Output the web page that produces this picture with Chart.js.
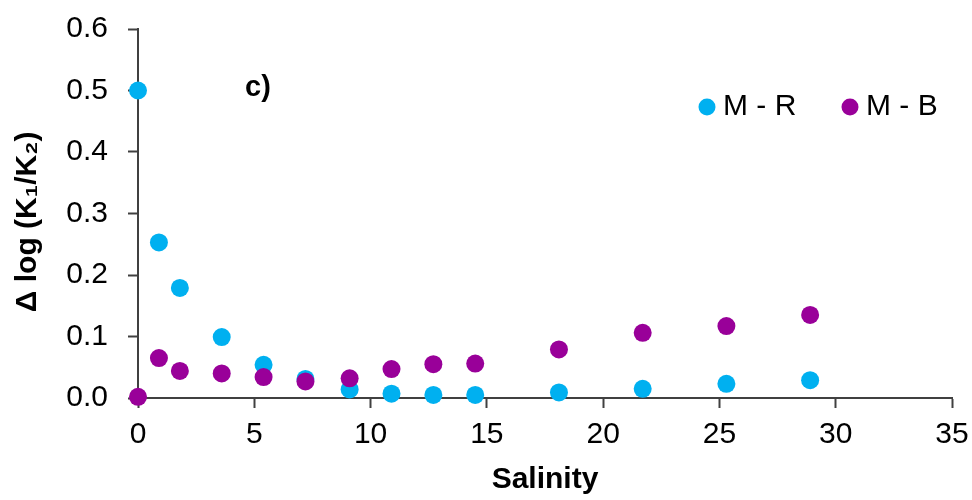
<!DOCTYPE html>
<html>
<head>
<meta charset="utf-8">
<script src="https://cdn.jsdelivr.net/npm/chart.js@4/dist/chart.umd.min.js"></script>
<style>
    html, body { margin: 0; padding: 0; background: #fff; }
    #wrap { width: 972px; height: 500px; }
</style>
</head>
<body>
<div id="wrap"><canvas id="myChart"></canvas></div>
<script>
// Dados
const salinity = [0, 0.9, 1.8, 3.6, 5.4, 7.2, 9.1, 10.9, 12.7, 14.5, 18.1, 21.7, 25.3, 28.9]
const mrValues = [0.500, 0.253, 0.179, 0.099, 0.054, 0.031, 0.014, 0.007, 0.005, 0.005, 0.009, 0.015, 0.023, 0.029]
const mbValues = [0.002, 0.065, 0.044, 0.040, 0.034, 0.027, 0.032, 0.047, 0.055, 0.056, 0.079, 0.106, 0.117, 0.135]
const seriesLabels = ['M - R', 'M - B']
const seriesColors = ['#00B0F0', '#990099']
const xTicks = [0, 5, 10, 15, 20, 25, 30, 35]
const yTicks = [0, 0.1, 0.2, 0.3, 0.4, 0.5, 0.6]

const fontName = '"Liberation Sans", Arial, sans-serif'
const axisColor = '#404040'

function toPoints(values) {
    return values.map((v, i) => ({ x: salinity[i], y: v }))
}

// Legenda e rótulo "c)" desenhados dentro da área do gráfico
const extraText = {
    id: 'extraText',
    afterDatasetsDraw(chart) {
        const ctx = chart.ctx
        const area = chart.chartArea
        ctx.save()

        ctx.font = 'bold 29px ' + fontName
        ctx.fillStyle = '#000'
        ctx.textBaseline = 'middle'
        ctx.textAlign = 'left'
        ctx.fillText('c)', area.left + 107, area.top + 59)

        const centers = [area.right - 245, area.right - 102]
        ctx.font = '30px ' + fontName
        chart.data.datasets.forEach((ds, i) => {
            const cx = centers[i]
            const cy = area.top + 78
            ctx.beginPath()
            ctx.arc(cx, cy, 8.5, 0, Math.PI * 2)
            ctx.fillStyle = ds.backgroundColor
            ctx.fill()
            ctx.fillStyle = '#000'
            ctx.fillText(ds.label, cx + 16, cy)
        })
        ctx.restore()
    }
}

const chart = new Chart(document.getElementById('myChart').getContext('2d'), {
    type: 'scatter',
    data: {
        datasets: [
            {
                label: seriesLabels[0],
                data: toPoints(mrValues),
                backgroundColor: seriesColors[0],
                borderColor: seriesColors[0],
                pointRadius: 9,
                borderWidth: 0,
                clip: false,
                order: 2
            },
            {
                label: seriesLabels[1],
                data: toPoints(mbValues),
                backgroundColor: seriesColors[1],
                borderColor: seriesColors[1],
                pointRadius: 9,
                borderWidth: 0,
                clip: false,
                order: 1
            }
        ]
    },
    options: {
        responsive: true,
        maintainAspectRatio: false,
        animation: false,
        layout: { padding: { left: 0, top: 29, right: 20, bottom: 0 } },
        plugins: {
            legend: { display: false },
            tooltip: { enabled: false }
        },
        scales: {
            x: {
                type: 'linear',
                min: 0,
                max: 35,
                afterFit(scale) {
                    scale.height = 102
                    scale.paddingLeft = 0
                    scale.paddingRight = 0
                },
                afterBuildTicks(scale) { scale.ticks = xTicks.map(v => ({ value: v })) },
                grid: { drawOnChartArea: false, drawTicks: true, tickLength: 10, color: axisColor, tickWidth: 2 },
                border: { display: true, color: axisColor, width: 2 },
                ticks: {
                    padding: 9,
                    color: '#000',
                    font: { family: fontName, size: 30 },
                    maxRotation: 0
                },
                title: {
                    display: true,
                    text: 'Salinity',
                    color: '#000',
                    font: { family: fontName, size: 30, weight: 'bold' },
                    padding: { top: 0, bottom: 2 }
                }
            },
            y: {
                type: 'linear',
                min: 0,
                max: 0.6,
                afterFit(scale) {
                    scale.width = 138
                    scale.paddingTop = 0
                    scale.paddingBottom = 0
                },
                afterBuildTicks(scale) { scale.ticks = yTicks.map(v => ({ value: v })) },
                grid: { drawOnChartArea: false, drawTicks: true, tickLength: 10, color: axisColor, tickWidth: 2 },
                border: { display: true, color: axisColor, width: 2 },
                ticks: {
                    padding: 20,
                    color: '#000',
                    font: { family: fontName, size: 30 },
                    callback: (v) => v.toFixed(1)
                },
                title: {
                    display: true,
                    text: 'Δ log (K₁/K₂)\u00A0\u00A0',
                    color: '#000',
                    font: { family: fontName, size: 30, weight: 'bold' },
                    padding: { top: 10, bottom: 0 }
                }
            }
        }
    },
    plugins: [extraText]
})
</script>
</body>
</html>
